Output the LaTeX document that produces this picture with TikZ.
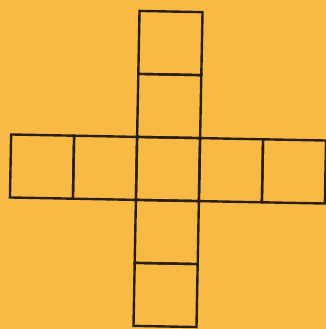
\documentclass[tikz,border=0pt]{standalone}
\usepackage{xcolor}
\usepackage{tikz}
\usetikzlibrary{
  positioning
}
\definecolor{card}{HTML}{F9BA45}
\definecolor{ink}{HTML}{2B1E16}
\tikzset{
  cell/.style={
    rectangle, draw=ink, line width=2.4pt, fill=none,
    minimum size=63pt, inner sep=0pt, outer sep=0pt
  },
}

\begin{document}
\begin{tikzpicture}[x=1pt, y=1pt]
  \fill[card] (0,0) rectangle (326,329);
  \useasboundingbox (0,0) rectangle (326,329);

  \begin{scope}[shift={(168,160)}, rotate=-1.1, transform shape]
    \node[cell] (mid) at (0,0) {};

    \node[cell, above=0pt of mid] (up1) {};
    \node[cell, above=0pt of up1] (up2) {};
    \node[cell, below=0pt of mid] (dn1) {};
    \node[cell, below=0pt of dn1] (dn2) {};
    \node[cell, left=0pt of mid]  (lf1) {};
    \node[cell, left=0pt of lf1]  (lf2) {};
    \node[cell, right=0pt of mid] (rt1) {};
    \node[cell, right=0pt of rt1] (rt2) {};
  \end{scope}
\end{tikzpicture}
\end{document}
